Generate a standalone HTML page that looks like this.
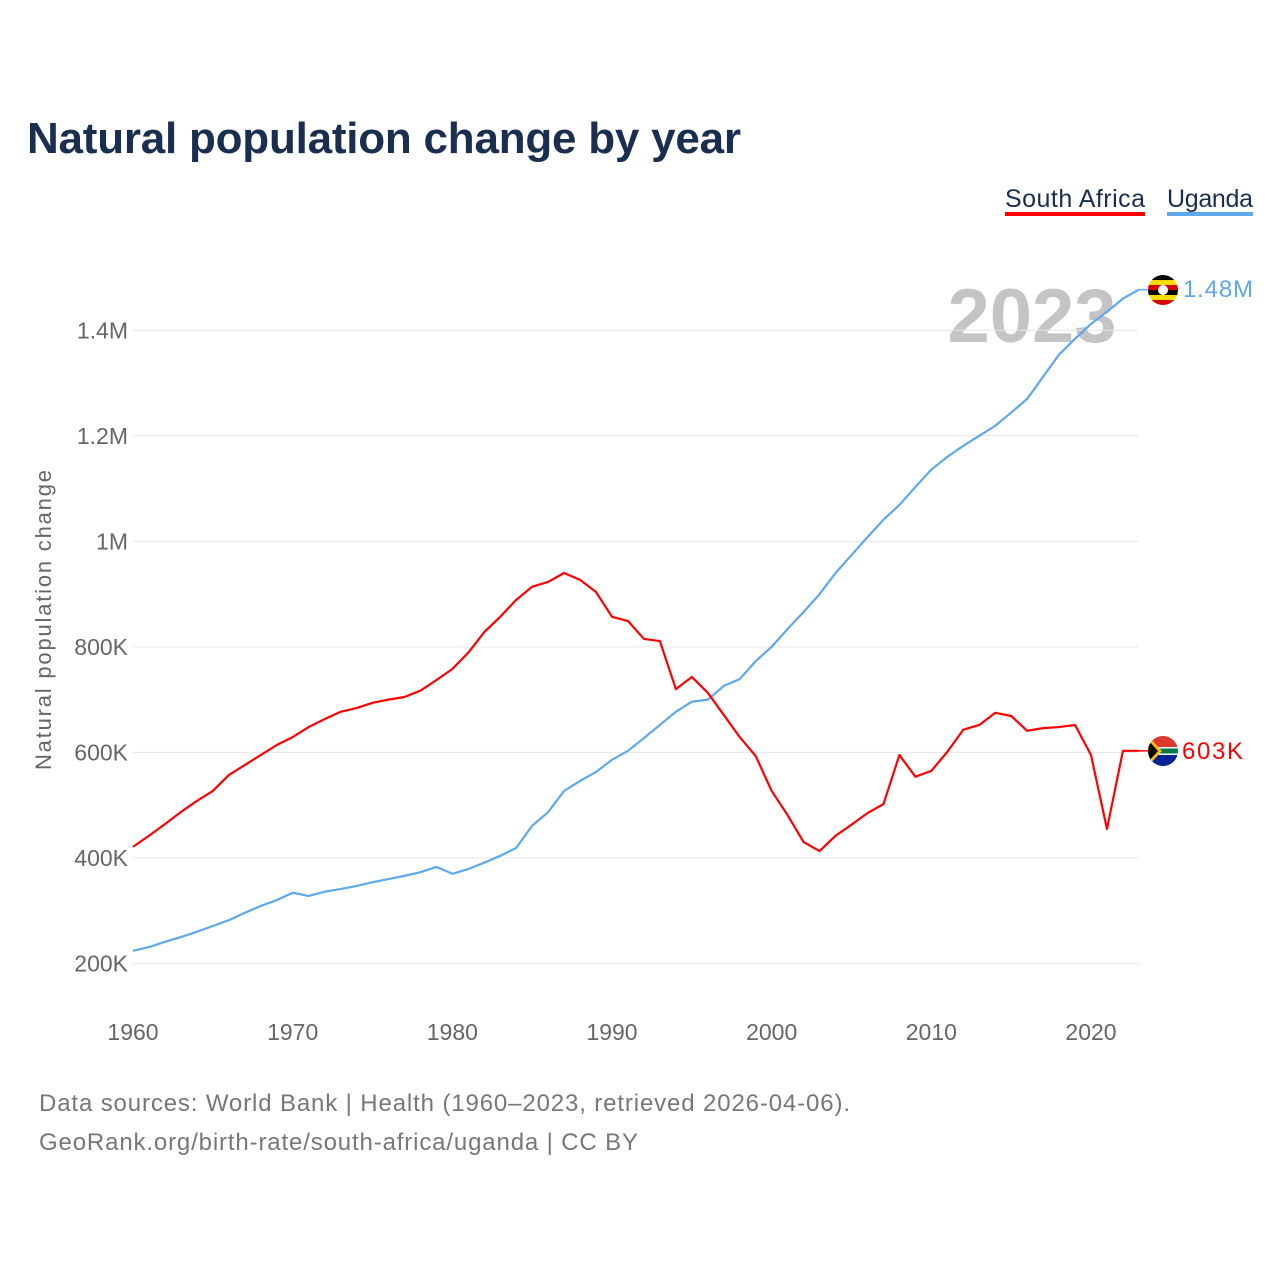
<!DOCTYPE html>
<html><head><meta charset="utf-8"><style>
body{margin:0;background:#fff;font-family:"Liberation Sans",sans-serif}
</style></head><body>
<svg width="1280" height="1280" xmlns="http://www.w3.org/2000/svg">
<text x="27" y="153" font-size="44" font-weight="bold" fill="#1a2e4f" textLength="714">Natural population change by year</text>
<g>
<text x="1005" y="207" font-size="25" fill="#1a2e4f" textLength="140">South Africa</text>
<rect x="1005" y="212" width="140" height="4" fill="#ff0000"/>
<text x="1167" y="207" font-size="25" fill="#1a2e4f" textLength="86">Uganda</text>
<rect x="1167" y="212" width="86" height="4" fill="#5ea8ec"/>
</g>
<text x="1032" y="342" font-size="76" font-weight="bold" fill="#c4c4c4" text-anchor="middle">2023</text>
<g id="grid"></g><g id="yt"></g><g id="xt"></g><g id="lines"></g>
<text transform="translate(51,620) rotate(-90)" font-size="22" fill="#666" text-anchor="middle" textLength="300">Natural population change</text>
<g>
<clipPath id="cu"><circle cx="1163" cy="290" r="15"/></clipPath>
<g clip-path="url(#cu)"><rect x="1148" y="275" width="30" height="5" fill="#000"/><rect x="1148" y="280" width="30" height="5" fill="#fcdc04"/><rect x="1148" y="285" width="30" height="5" fill="#d90000"/><rect x="1148" y="290" width="30" height="5" fill="#000"/><rect x="1148" y="295" width="30" height="5" fill="#fcdc04"/><rect x="1148" y="300" width="30" height="5" fill="#d90000"/><circle cx="1163" cy="290" r="5" fill="#fff"/></g></g>
<text x="1183" y="297" font-size="24" fill="#5ea8ec" textLength="70">1.48M</text>
<g>
<clipPath id="cs"><circle cx="1163" cy="751" r="15"/></clipPath>
<g clip-path="url(#cs)"><rect x="1148" y="736" width="30" height="15" fill="#de3831"/><rect x="1148" y="751" width="30" height="15" fill="#002395"/><rect x="1148" y="747" width="30" height="8" fill="#fff"/><rect x="1148" y="748.5" width="30" height="5" fill="#007a4d"/><polygon points="1148,736 1162,751 1148,766" fill="#ffb612"/><polygon points="1148,740 1158,751 1148,762" fill="#000"/></g></g>
<text x="1182" y="759" font-size="24" fill="#ff0000" textLength="61">603K</text>
<text x="39" y="1111" font-size="24" fill="#777" textLength="811">Data sources: World Bank | Health (1960–2023, retrieved 2026-04-06).</text>
<text x="39" y="1150" font-size="24" fill="#777" textLength="599">GeoRank.org/birth-rate/south-africa/uganda | CC BY</text>
</svg>
<script>
const years=[];for(let y=1960;y<=2023;y++)years.push(y);
const southAfrica=[421,442,464,487,508,527,557,576,595,614,629,648,663,677,684,694,700,705,717,737,758,789,828,857,889,914,923,940,927,904,857,849,815,811,720,743,713,671,629,593,527,481,430,413,442,463,485,502,595,554,565,601,643,652,675,669,641,646,648,652,595,455,603,603];
const uganda=[224,231,241,250,260,271,282,296,309,320,334,328,336,341,347,354,360,366,373,383,370,379,391,404,419,461,487,527,546,563,586,603,627,652,677,696,700,726,739,773,800,834,866,900,940,974,1008,1041,1069,1103,1136,1160,1181,1200,1219,1244,1270,1312,1354,1384,1412,1435,1460,1477];
const yTicks=[200,400,600,800,1000,1200,1400];
const yTickLabels=["200K","400K","600K","800K","1M","1.2M","1.4M"];
const xTicks=[1960,1970,1980,1990,2000,2010,2020];
const NS="http://www.w3.org/2000/svg";
const X=v=>133+(v-1960)*15.967;
const Y=v=>1069-v*0.52767;
function mk(t,a,p){const e=document.createElementNS(NS,t);for(const k in a)e.setAttribute(k,a[k]);document.getElementById(p).appendChild(e);return e;}
yTicks.forEach((t,i)=>{
 const l=mk('line',{x1:133,x2:1138,y1:Y(t),y2:Y(t),stroke:'#e6e6e6','stroke-width':1},'grid');
 
 
 const tx=mk('text',{x:128,y:Y(t)+8,'font-size':23,fill:'#666','text-anchor':'end'},'yt');
 tx.textContent=yTickLabels[i];
 
 
});
xTicks.forEach(t=>{
 const tx=mk('text',{x:X(t),y:1040,'font-size':23,fill:'#666','text-anchor':'middle'},'xt');
 tx.textContent=t;
 
 
});
function line(d,c,name){
 const p=mk('polyline',{points:d.map((v,i)=>X(years[i])+','+Y(v)).join(' '),fill:'none',stroke:c,'stroke-width':2.2,'stroke-linejoin':'round'},'lines');
 
 
 const last=d[d.length-1];
 const c2=mk('line',{x1:X(2023),x2:1148,y1:Y(last),y2:Y(last),stroke:c,'stroke-width':1.5},'lines');
 
 
}
line(uganda,'#5ea8ec','uganda-line');
line(southAfrica,'#ff0000','south-africa-line');
</script>
</body></html>
